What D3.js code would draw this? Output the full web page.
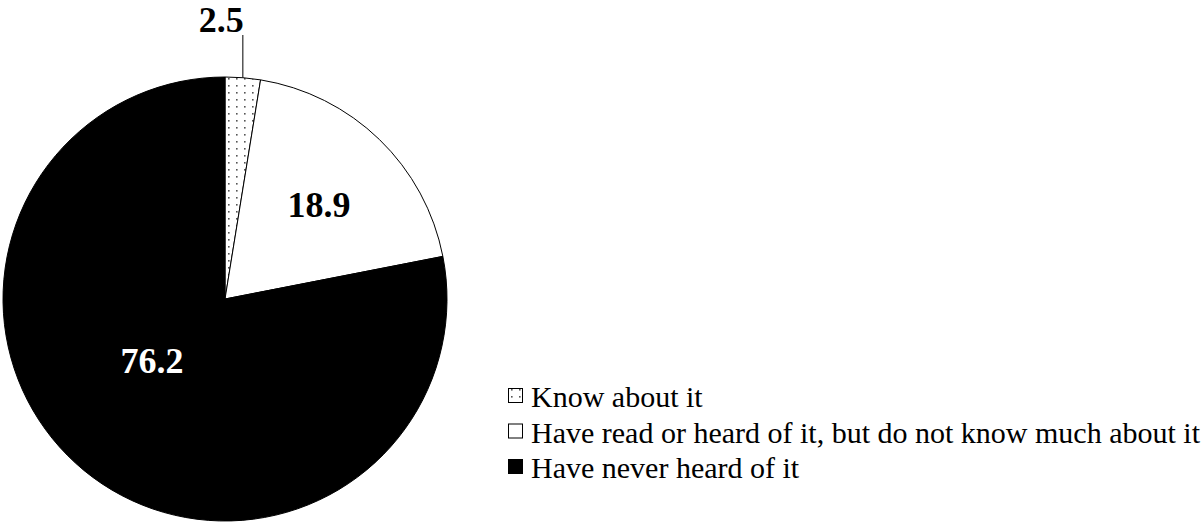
<!DOCTYPE html>
<html>
<head>
<meta charset="utf-8">
<title>Awareness pie</title>
<script src="https://cdnjs.cloudflare.com/ajax/libs/d3/7.8.5/d3.min.js"></script>
</head>
<body style="margin:0;background:#fff">
<svg id="chart"></svg>
<script>
    const categories = [
        "Know about it",
        "Have read or heard of it, but do not know much about it",
        "Have never heard of it"
    ];
    const values = [2.5, 18.9, 76.2];
    const fills = ["url(#dots)", "#fff", "#000"];
    const labelColors = ["#000", "#000", "#fff"];

    const width = 1203, height = 523;
    const cx = 225, cy = 299, radius = 222;
    const serif = "Liberation Serif";

    const svg = d3.select("#chart")
        .attr("width", width)
        .attr("height", height);

    // dotted fill for the small slice
    const pat = svg.append("defs").append("pattern")
        .attr("id", "dots")
        .attr("patternUnits", "userSpaceOnUse")
        .attr("width", 8)
        .attr("height", 7);
    pat.append("rect").attr("width", 8).attr("height", 7).attr("fill", "#fff");
    pat.append("rect").attr("x", 3).attr("y", 3).attr("width", 1.6).attr("height", 1.6).attr("fill", "#555");

    const pie = d3.pie().sort(null).value(d => d);
    const arcs = pie(values);
    const arc = d3.arc().innerRadius(0).outerRadius(radius);

    const g = svg.append("g").attr("transform", `translate(${cx},${cy})`);

    g.selectAll("path")
        .data(arcs)
        .join("path")
        .attr("d", arc)
        .attr("fill", (d, i) => fills[i])
        .attr("stroke", "#000")
        .attr("stroke-width", 1);

    // labels inside the two larger slices
    g.selectAll("text.value")
        .data(arcs.filter((d, i) => i > 0))
        .join("text")
        .attr("class", "value")
        .attr("font-family", serif)
        .attr("font-weight", "bold")
        .attr("font-size", 36)
        .attr("text-anchor", "middle")
        .attr("fill", d => labelColors[d.index])
        .attr("x", (d, i) => i === 0 ? 94 : -73)
        .attr("y", (d, i) => i === 0 ? -82 : 74)
        .text(d => d.data.toFixed(1));

    // small slice: leader line up to the label
    const small = arcs[0];
    const mid = (small.startAngle + small.endAngle) / 2;
    const lx = Math.sin(mid) * radius;
    g.append("line")
        .attr("x1", lx).attr("y1", -Math.cos(mid) * radius)
        .attr("x2", lx).attr("y2", 35 - cy)
        .attr("stroke", "#000")
        .attr("stroke-width", 1);
    g.append("text")
        .attr("font-family", serif)
        .attr("font-weight", "bold")
        .attr("font-size", 36)
        .attr("text-anchor", "end")
        .attr("x", lx + 1)
        .attr("y", 32 - cy)
        .text(small.data.toFixed(1));

    // legend
    const legend = svg.append("g")
        .attr("transform", "translate(508,0)");
    const rowY = d3.scalePoint().domain(categories).range([407, 478]);
    const row = legend.selectAll("g")
        .data(categories)
        .join("g")
        .attr("transform", d => `translate(0,${rowY(d)})`);
    row.append("rect")
        .attr("x", 0.5).attr("y", -18.5)
        .attr("width", 14).attr("height", 14)
        .attr("fill", (d, i) => fills[i])
        .attr("stroke", "#000")
        .attr("stroke-width", 1);
    row.append("text")
        .attr("font-family", serif)
        .attr("font-size", 30)
        .attr("x", 23)
        .attr("y", 0)
        .text(d => d);
</script>
</body>
</html>
